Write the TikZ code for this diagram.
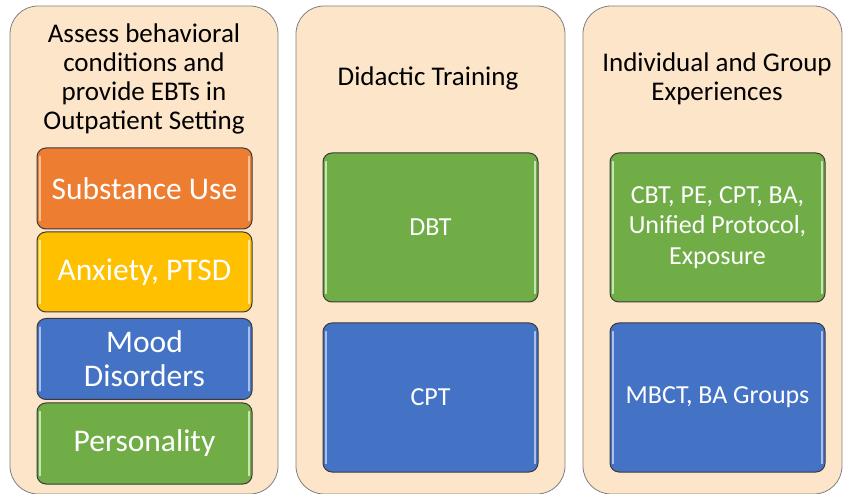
\documentclass[tikz,border=0pt]{standalone}
\usepackage{fontspec}
\setmainfont{Carlito}
\definecolor{peach}{HTML}{FDE5CA}
\definecolor{pborder}{HTML}{7F7F7F}
\definecolor{iborder}{HTML}{3A3A3A}
\definecolor{cor}{HTML}{ED7D31}
\definecolor{cye}{HTML}{FFC000}
\definecolor{cbl}{HTML}{4472C4}
\definecolor{cgr}{HTML}{70AD47}
\definecolor{lor}{HTML}{F8C39A}
\definecolor{lye}{HTML}{FFE7A0}
\definecolor{lbl}{HTML}{A9C0EA}
\definecolor{lgr}{HTML}{C5E6B0}
\tikzset{
  panel/.style={draw=pborder, line width=0.8pt, fill=peach, rounded corners=28pt, inner sep=0pt},
  ptitle/.style={align=center, text=black, font=\fontsize{27}{29}\selectfont, inner sep=0pt},
  ibox/.style={draw=iborder, line width=1pt, rounded corners=9pt, text=white, align=center, inner sep=0pt, minimum width=215pt},
  bevel/.style={line width=1.3pt, line cap=round},
}
\newcommand{\bevels}[2]{%
  \draw[bevel, #2] ([xshift=3.5pt,yshift=-9pt]#1.north west) -- ([xshift=3.5pt,yshift=9pt]#1.south west);
  \draw[bevel, #2] ([xshift=-3.5pt,yshift=-9pt]#1.north east) -- ([xshift=-3.5pt,yshift=9pt]#1.south east);
}
\begin{document}
\begin{tikzpicture}[x=1pt,y=-1pt]
\useasboundingbox (0,0) rectangle (844,494);
% panels
\node[panel, minimum width=268pt, minimum height=488pt] (p1) at (144,250) {};
\node[panel, minimum width=269pt, minimum height=488pt] (p2) at (430.5,250) {};
\node[panel, minimum width=259pt, minimum height=488pt] (p3) at (712.5,250) {};
% titles
\node[ptitle] (t1) at (144,79) {Assess behavioral\\conditions and\\provide EBTs in\\Outpatient Setting};
\node[ptitle] (t2) at (428,78) {Didactic Training};
\node[ptitle] (t3) at (717,78.5) {Individual and Group\\Experiences};
% left column boxes
\node[ibox, fill=cor, minimum height=81pt, font=\fontsize{31.5}{34}\selectfont] (su) at (144.5,188.5) {Substance Use};
\node[ibox, fill=cye, minimum height=80pt, font=\fontsize{31.5}{34}\selectfont] (an) at (144.5,272) {Anxiety, PTSD};
\node[ibox, fill=cbl, minimum height=81pt, font=\fontsize{31.5}{34}\selectfont] (mo) at (144.5,359) {Mood\\Disorders};
\node[ibox, fill=cgr, minimum height=81pt, font=\fontsize{31.5}{34}\selectfont] (pe) at (144.5,443.5) {Personality};
% middle column boxes
\node[ibox, fill=cgr, minimum height=149pt, font=\fontsize{26}{30.5}\selectfont] (dbt) at (430.5,227.5) {DBT};
\node[ibox, fill=cbl, minimum height=149pt, font=\fontsize{26}{30.5}\selectfont] (cpt) at (430.5,397.5) {CPT};
% right column boxes
\node[ibox, fill=cgr, minimum height=149pt, font=\fontsize{26}{30.5}\selectfont] (cbt) at (717.5,227.5) {CBT, PE, CPT, BA,\\Unified Protocol,\\Exposure};
\node[ibox, fill=cbl, minimum height=149pt, font=\fontsize{26}{30.5}\selectfont] (mbct) at (717.5,397.5) {MBCT, BA Groups};
% bevel highlights
\bevels{su}{lor}
\bevels{an}{lye}
\bevels{mo}{lbl}
\bevels{pe}{lgr}
\bevels{dbt}{lgr}
\bevels{cpt}{lbl}
\bevels{cbt}{lgr}
\bevels{mbct}{lbl}
\end{tikzpicture}
\end{document}
